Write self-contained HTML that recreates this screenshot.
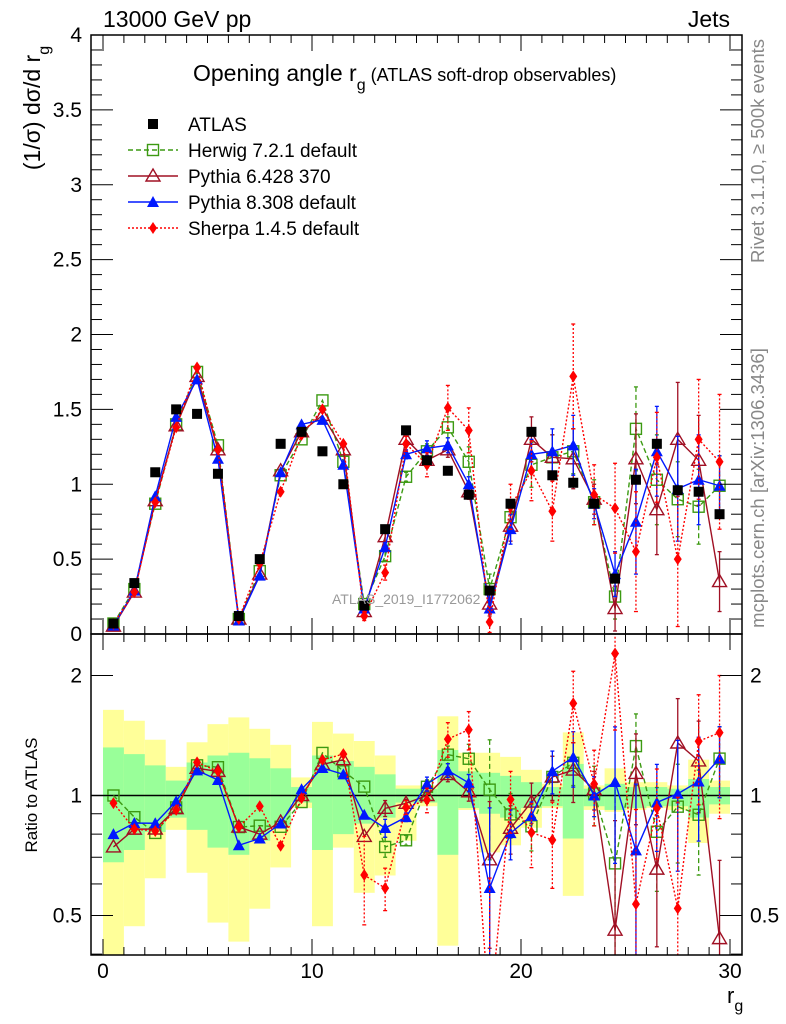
<!DOCTYPE html>
<html><head><meta charset="utf-8"><style>
html,body{margin:0;padding:0;background:#fff;overflow:hidden;width:786px;height:1024px}
svg{display:block}
svg text{font-family:"Liberation Sans",sans-serif}
</style></head><body>
<svg id="c" width="786" height="1024" xmlns="http://www.w3.org/2000/svg"></svg>
<script>
const bins=[0.5,1.5,2.5,3.5,4.5,5.5,6.5,7.5,8.5,9.5,10.5,11.5,12.5,13.5,14.5,15.5,16.5,17.5,18.5,19.5,20.5,21.5,22.5,23.5,24.5,25.5,26.5,27.5,28.5,29.5];
const atlas=[0.07,0.34,1.08,1.50,1.47,1.07,0.12,0.50,1.27,1.35,1.22,1.00,0.19,0.70,1.36,1.16,1.09,0.93,0.29,0.87,1.35,1.06,1.01,0.87,0.37,1.03,1.27,0.96,0.95,0.80];
const herwig=[0.07,0.30,0.87,1.40,1.75,1.26,0.10,0.42,1.06,1.30,1.56,1.15,0.20,0.52,1.05,1.22,1.38,1.15,0.30,0.78,1.13,1.18,1.22,0.88,0.25,1.37,1.03,0.90,0.85,0.99];
const pythia6=[0.052,0.28,0.89,1.39,1.72,1.23,0.10,0.40,1.09,1.35,1.46,1.23,0.15,0.65,1.30,1.16,1.23,0.95,0.20,0.72,1.30,1.18,1.17,0.90,0.17,1.17,0.83,1.30,1.16,0.35];
const pythia8=[0.056,0.29,0.92,1.45,1.70,1.17,0.09,0.39,1.08,1.40,1.43,1.13,0.17,0.58,1.20,1.24,1.26,1.00,0.17,0.70,1.20,1.22,1.26,0.87,0.40,0.75,1.22,0.97,1.03,0.99];
const sherpa=[0.067,0.28,0.88,1.38,1.78,1.23,0.10,0.47,0.95,1.33,1.50,1.27,0.12,0.41,1.27,1.13,1.51,1.36,0.08,0.85,1.09,0.82,1.72,0.93,0.84,0.55,1.18,0.50,1.30,1.15];
const herwigErr=[0,0,0,0,0,0,0,0,0,0,0,0,0,0.03,0.03,0.05,0.07,0.1,0.1,0.1,0.15,0.15,0.15,0.15,0.15,0.28,0.3,0.25,0.25,0.2];
const pythia6Err=[0,0,0,0,0,0,0,0,0,0,0,0,0,0.03,0.03,0.05,0.05,0.05,0.08,0.1,0.15,0.15,0.2,0.1,0.15,0.3,0.3,0.38,0.3,0.2];
const pythia8Err=[0,0,0,0,0,0,0,0,0,0,0,0,0,0.03,0.03,0.05,0.05,0.05,0.1,0.1,0.1,0.15,0.2,0.1,0.15,0.35,0.3,0.35,0.3,0.2];
const sherpaErr=[0,0,0,0,0,0,0,0,0,0,0,0,0.03,0.05,0.05,0.08,0.15,0.15,0.1,0.15,0.2,0.2,0.35,0.2,0.3,0.4,0.3,0.45,0.4,0.45];
const yellowLo=[0.38,0.47,0.62,0.82,0.64,0.48,0.43,0.52,0.66,0.93,0.47,0.74,0.57,0.63,0.77,0.94,0.42,0.92,0.72,0.75,0.83,0.93,0.56,0.92,0.91,0.92,0.93,0.92,0.76,0.9];
const yellowHi=[1.64,1.54,1.38,1.18,1.36,1.51,1.57,1.47,1.34,1.11,1.53,1.43,1.37,1.26,1.06,1.06,1.58,1.28,1.28,1.25,1.16,1.07,1.44,1.06,1.17,1.08,1.08,1.06,1.23,1.09];
const greenLo=[0.68,0.73,0.81,0.88,0.82,0.74,0.71,0.77,0.84,0.96,0.73,0.80,0.85,0.88,0.96,0.96,0.71,0.93,0.90,0.88,0.93,0.94,0.78,0.94,0.92,0.93,0.94,0.94,0.88,0.95];
const greenHi=[1.32,1.27,1.19,1.09,1.21,1.26,1.28,1.24,1.17,1.05,1.26,1.22,1.18,1.13,1.04,1.04,1.30,1.15,1.14,1.12,1.08,1.05,1.20,1.04,1.07,1.05,1.05,1.04,1.10,1.05];
const mainTicks=[0,0.5,1,1.5,2,2.5,3,3.5,4];
const mainTickLabels=["0","0.5","1","1.5","2","2.5","3","3.5","4"];
const xTicks=[0,10,20,30];
const ratioTicks=[0.5,1,2];

const NS="http://www.w3.org/2000/svg";
const svg=document.getElementById('c');
const L=91,R=742,T=35,MB=634,RB=955;
const X=v=>L+12+v*(730-103)/30;
const Y=v=>MB-v*(MB-T)/4;
const RY=v=>795.5-Math.log2(v)*120;
function mk(tag,attrs,parent){const e=document.createElementNS(NS,tag);for(const k in attrs)e.setAttribute(k,attrs[k]);(parent||svg).appendChild(e);return e;}
function txt(s,x,y,size,anchor,extra){const e=mk('text',Object.assign({x:x,y:y,'font-size':size,'text-anchor':anchor||'start'},extra||{}));e.textContent=s;return e;}

const defs=mk('defs',{});
const cp1=mk('clipPath',{id:'cm'},defs);mk('rect',{x:L,y:T,width:R-L,height:MB-T},cp1);
const cp2=mk('clipPath',{id:'cr'},defs);mk('rect',{x:L,y:MB,width:R-L,height:RB-MB},cp2);
const gMain=mk('g',{'clip-path':'url(#cm)'});


const gRat=mk('g',{'clip-path':'url(#cr)'});



bins.forEach((b,i)=>{
  const y=mk('rect',{x:X(b-0.5),y:RY(yellowHi[i]),width:X(1)-X(0),height:RY(yellowLo[i])-RY(yellowHi[i]),fill:'#ffff99'},gRat);
  
  
});
bins.forEach((b,i)=>{
  const g=mk('rect',{x:X(b-0.5),y:RY(greenHi[i]),width:X(1)-X(0),height:RY(greenLo[i])-RY(greenHi[i]),fill:'#99ff99'},gRat);
  
  
});
const one=mk('line',{x1:L,x2:R,y1:RY(1),y2:RY(1),stroke:'#000','stroke-width':1.5},gRat);



function marker(g,type,x,y,col){
  let e;
  if(type==='sq') e=mk('rect',{x:x-5,y:y-5,width:10,height:10,fill:'#000'},g);
  else if(type==='osq') e=mk('rect',{x:x-5.5,y:y-5.5,width:11,height:11,fill:'none',stroke:col,'stroke-width':1.4},g);
  else if(type==='otri') e=mk('path',{d:`M${x},${y-7}L${x+7},${y+5}L${x-7},${y+5}Z`,fill:'none',stroke:col,'stroke-width':1.4},g);
  else if(type==='tri') e=mk('path',{d:`M${x},${y-6}L${x+6},${y+5}L${x-6},${y+5}Z`,fill:col},g);
  else if(type==='dia') e=mk('path',{d:`M${x},${y-6}L${x+4},${y}L${x},${y+6}L${x-4},${y}Z`,fill:col},g);
  return e;
}
const series=[
 {name:'herwig',vals:herwig,err:herwigErr,col:'#3c9a12',dash:'5,3',m:'osq'},
 {name:'pythia6',vals:pythia6,err:pythia6Err,col:'#a01024',dash:'',m:'otri'},
 {name:'pythia8',vals:pythia8,err:pythia8Err,col:'#0018ff',dash:'',m:'tri'},
 {name:'sherpa',vals:sherpa,err:sherpaErr,col:'#ff0000',dash:'2,2',m:'dia'}
];
series.forEach(s=>{
  [[gMain,s.vals.map(v=>v),Y,s.err],[gRat,s.vals.map((v,i)=>v/atlas[i]),RY,s.err.map((e,i)=>e/atlas[i])]].forEach(([g,vals,F,errs])=>{
    const sg=mk('g',{},g);
    
    
    const pts=bins.map((b,i)=>X(b)+','+F(vals[i])).join(' ');
    mk('polyline',{points:pts,fill:'none',stroke:s.col,'stroke-width':1.4,'stroke-dasharray':s.dash},sg);
    bins.forEach((b,i)=>{
      if(errs[i]>0){
        const lo=Math.max(vals[i]-errs[i],0.01);
        mk('line',{x1:X(b),x2:X(b),y1:F(vals[i]+errs[i]),y2:F(lo),stroke:s.col,'stroke-width':1.3,'stroke-dasharray':s.dash},sg);
        mk('line',{x1:X(b)-2,x2:X(b)+2,y1:F(vals[i]+errs[i]),y2:F(vals[i]+errs[i]),stroke:s.col,'stroke-width':1.3},sg);
        mk('line',{x1:X(b)-2,x2:X(b)+2,y1:F(lo),y2:F(lo),stroke:s.col,'stroke-width':1.3},sg);
      }
      const m=marker(sg,s.m,X(b),F(vals[i]),s.col);
      
      
    });
  });
});
bins.forEach((b,i)=>{
  const m=marker(gMain,'sq',X(b),Y(atlas[i]));
  
  
});

const wm=txt('ATLAS_2019_I1772062',332,604,14,'start',{fill:'#999'});



[[T,MB],[MB,RB]].forEach(([a,b])=>{
  const f=mk('rect',{x:L,y:a,width:R-L,height:b-a,fill:'none',stroke:'#000','stroke-width':1.5});
  
  
});
for(let v=0;v<=4.001;v+=0.1){
  const maj=Math.abs(v*2-Math.round(v*2))<0.01;const len=maj?22:11;const y=Y(v);
  mk('line',{x1:L,x2:L+len,y1:y,y2:y,stroke:'#000'});
  mk('line',{x1:R,x2:R-len,y1:y,y2:y,stroke:'#000'});
}
mainTicks.forEach((v,i)=>{
  const t=txt(mainTickLabels[i],82,Y(v)+7,21,'end');
  
  
});
for(let v=0;v<=30;v+=1){
  const maj=v%10===0;const len=maj?16:8;
  [[T,1],[MB,-1],[MB,1],[RB,-1]].forEach(([y,d])=>mk('line',{x1:X(v),x2:X(v),y1:y,y2:y+d*len,stroke:'#000'}));
}
xTicks.forEach(v=>{
  const t=txt(String(v),X(v),978,21,'middle');
  
  
});
[0.4,0.5,0.6,0.7,0.8,0.9,1,2].forEach(v=>{
  const maj=ratioTicks.includes(v);const len=maj?22:11;
  mk('line',{x1:L,x2:L+len,y1:RY(v),y2:RY(v),stroke:'#000'});
  mk('line',{x1:R,x2:R-len,y1:RY(v),y2:RY(v),stroke:'#000'});
});
ratioTicks.forEach(v=>{
  const t=txt(String(v),82,RY(v)+7,21,'end');
  
  
  const t2=txt(String(v),750,RY(v)+7,21,'start');
  
  
});

let e;
e=txt('13000 GeV pp',103,27,23);
e=txt('Jets',730,27,23,'end');
e=mk('text',{x:193,y:81,'font-size':23,'text-anchor':'start'});
e.innerHTML='Opening angle r<tspan dy="9" font-size="16">g</tspan><tspan dy="-9" font-size="18"> (ATLAS soft-drop observables)</tspan>';

e=mk('text',{x:0,y:0,'font-size':23,'text-anchor':'middle',transform:'translate(40,108) rotate(-90)'});
e.innerHTML='(1/σ) dσ/d r<tspan dy="9" font-size="16">g</tspan>';

e=txt('Ratio to ATLAS',0,0,17,'middle',{transform:'translate(37,795) rotate(-90)'});

e=mk('text',{x:727,y:1003,'font-size':22,'text-anchor':'start'});
e.innerHTML='r<tspan dy="8" font-size="16">g</tspan>';

e=txt('Rivet 3.1.10, ≥ 500k events',0,0,18.5,'middle',{transform:'translate(764,151) rotate(-90)',fill:'#888'});

e=txt('mcplots.cern.ch [arXiv:1306.3436]',0,0,18.5,'middle',{transform:'translate(764,488) rotate(-90)',fill:'#888'});


const leg=[['ATLAS','#000','','sq',false],['Herwig 7.2.1 default','#3c9a12','5,3','osq',true],['Pythia 6.428 370','#a01024','','otri',true],['Pythia 8.308 default','#0018ff','','tri',true],['Sherpa 1.4.5 default','#ff0000','2,2','dia',true]];
leg.forEach((l,i)=>{
  const y=124+i*26;
  const g=mk('g',{});
  
  
  if(l[4]) mk('line',{x1:128,x2:178,y1:y,y2:y,stroke:l[1],'stroke-width':1.4,'stroke-dasharray':l[2]},g);
  marker(g,l[3],153,y,l[1]);
  const t=txt(l[0],188,y+7,19,'start');g.appendChild(t);
});
</script>
</body></html>
